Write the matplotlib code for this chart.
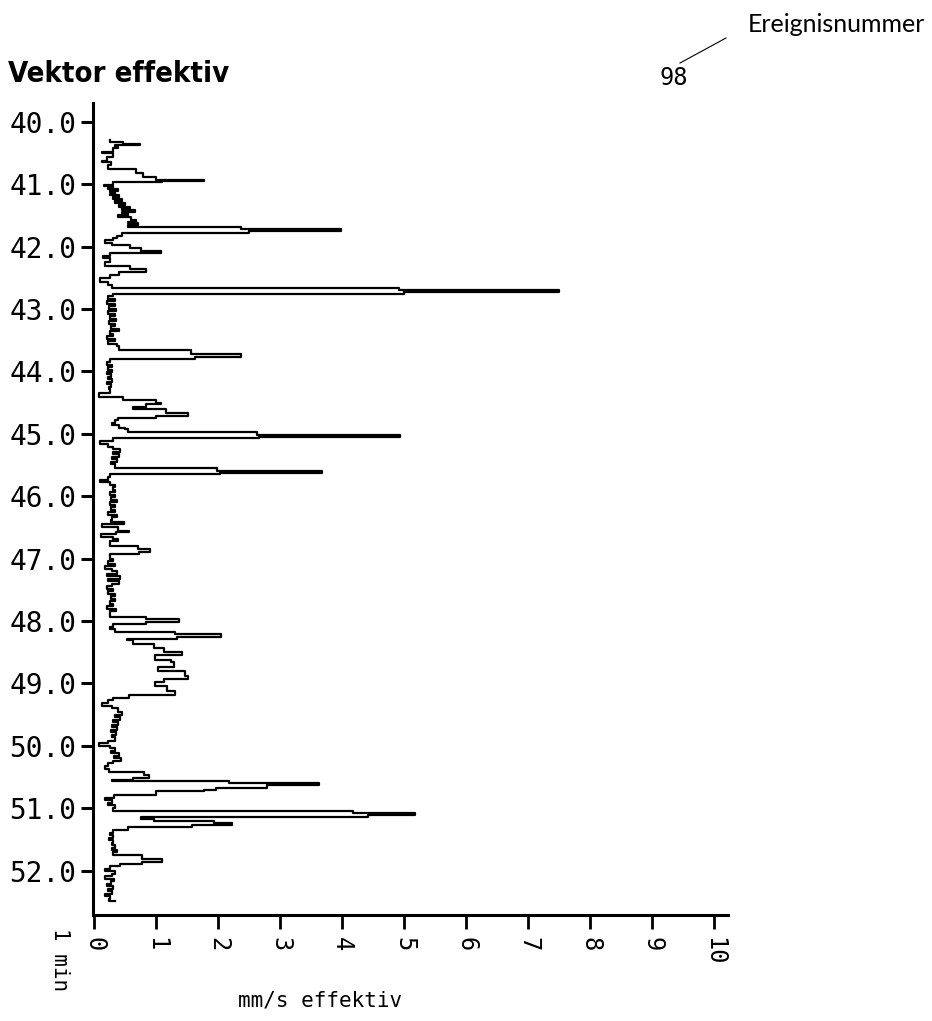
import matplotlib
matplotlib.use("Agg")
import matplotlib.pyplot as plt
from matplotlib.lines import Line2D

# recording time in minutes (downwards) and effective vector velocity in mm/s
TIME_MIN = [
    40.30, 40.32, 40.35, 40.37, 40.40, 40.42, 40.48, 40.50, 40.56, 40.63,
    40.65, 40.70, 40.75, 40.82, 40.88, 40.93, 40.95, 40.97, 41.01, 41.03,
    41.06, 41.08, 41.11, 41.13, 41.16, 41.18, 41.21, 41.24, 41.27, 41.30,
    41.33, 41.36, 41.39, 41.41, 41.44, 41.47, 41.50, 41.52, 41.57, 41.60,
    41.62, 41.65, 41.69, 41.72, 41.755, 41.78, 41.83, 41.86, 41.90, 41.94,
    41.98, 42.03, 42.07, 42.10, 42.15, 42.19, 42.24, 42.31, 42.36, 42.40,
    42.45, 42.51, 42.57, 42.61, 42.66, 42.70, 42.735, 42.76, 42.80, 42.84,
    42.88, 42.92, 42.96, 43.00, 43.04, 43.08, 43.12, 43.16, 43.20, 43.24,
    43.28, 43.32, 43.36, 43.40, 43.44, 43.48, 43.52, 43.56, 43.60, 43.66,
    43.72, 43.775, 43.80, 43.85, 43.89, 43.93, 43.97, 44.01, 44.05, 44.09,
    44.13, 44.17, 44.21, 44.25, 44.29, 44.35, 44.41, 44.46, 44.50, 44.53,
    44.57, 44.61, 44.66, 44.71, 44.74, 44.78, 44.82, 44.86, 44.90, 44.93,
    44.97, 45.02, 45.055, 45.07, 45.12, 45.16, 45.21, 45.25, 45.29, 45.33,
    45.37, 45.41, 45.45, 45.49, 45.55, 45.59, 45.625, 45.64, 45.69, 45.74,
    45.78, 45.82, 45.86, 45.90, 45.94, 45.98, 46.02, 46.06, 46.10, 46.14,
    46.18, 46.22, 46.26, 46.30, 46.34, 46.38, 46.41, 46.45, 46.49, 46.55,
    46.58, 46.61, 46.65, 46.68, 46.72, 46.80, 46.85, 46.89, 46.92, 47.00,
    47.04, 47.08, 47.12, 47.16, 47.20, 47.24, 47.28, 47.32, 47.36, 47.40,
    47.44, 47.48, 47.52, 47.56, 47.60, 47.64, 47.68, 47.72, 47.76, 47.80,
    47.84, 47.93, 47.97, 48.01, 48.05, 48.09, 48.12, 48.17, 48.21, 48.25,
    48.28, 48.31, 48.37, 48.43, 48.49, 48.55, 48.62, 48.66, 48.74, 48.80,
    48.88, 48.93, 48.97, 49.04, 49.12, 49.19, 49.23, 49.27, 49.31, 49.36,
    49.40, 49.45, 49.50, 49.54, 49.58, 49.62, 49.66, 49.70, 49.74, 49.78,
    49.82, 49.86, 49.92, 49.96, 50.00, 50.04, 50.08, 50.12, 50.16, 50.20,
    50.24, 50.28, 50.33, 50.37, 50.42, 50.47, 50.52, 50.545, 50.565, 50.60,
    50.63, 50.67, 50.71, 50.73, 50.79, 50.83, 50.87, 50.91, 50.95, 50.99,
    51.045, 51.08, 51.115, 51.135, 51.165, 51.20, 51.235, 51.265, 51.30, 51.345,
    51.39, 51.43, 51.47, 51.51, 51.55, 51.59, 51.63, 51.67, 51.70, 51.75,
    51.81, 51.86, 51.89, 51.93, 51.97, 52.01, 52.05, 52.09, 52.13, 52.17,
    52.21, 52.25, 52.29, 52.33, 52.37, 52.41, 52.45, 52.48,
]
VEL_MM_S = [
    0.25, 0.46, 0.73, 0.34, 0.38, 0.30, 0.12, 0.30, 0.20, 0.12,
    0.27, 0.22, 0.68, 0.78, 1.00, 1.77, 1.09, 0.30, 0.15, 0.30,
    0.22, 0.38, 0.25, 0.33, 0.25, 0.40, 0.30, 0.45, 0.33, 0.50,
    0.40, 0.58, 0.45, 0.65, 0.45, 0.55, 0.38, 0.60, 0.68, 0.55,
    0.70, 0.55, 2.37, 3.98, 2.50, 0.44, 0.36, 0.30, 0.18, 0.28,
    0.58, 0.75, 1.07, 0.25, 0.14, 0.26, 0.18, 0.58, 0.83, 0.40,
    0.25, 0.10, 0.22, 0.28, 4.92, 7.50, 5.00, 0.30, 0.22, 0.33,
    0.20, 0.34, 0.24, 0.35, 0.22, 0.33, 0.25, 0.35, 0.24, 0.33,
    0.27, 0.40, 0.25, 0.30, 0.20, 0.33, 0.22, 0.37, 0.40, 1.56,
    2.36, 1.62, 0.26, 0.20, 0.28, 0.22, 0.29, 0.20, 0.27, 0.22,
    0.29, 0.20, 0.27, 0.24, 0.25, 0.08, 0.47, 1.00, 1.07, 0.84,
    0.62, 1.15, 1.52, 1.00, 0.39, 0.33, 0.28, 0.40, 0.50, 0.55,
    2.62, 4.93, 2.65, 0.30, 0.10, 0.22, 0.30, 0.42, 0.30, 0.40,
    0.28, 0.36, 0.27, 0.34, 1.98, 3.68, 2.03, 0.26, 0.22, 0.10,
    0.26, 0.34, 0.30, 0.34, 0.26, 0.34, 0.27, 0.37, 0.25, 0.34,
    0.27, 0.34, 0.22, 0.36, 0.28, 0.27, 0.48, 0.12, 0.38, 0.56,
    0.35, 0.11, 0.30, 0.39, 0.26, 0.70, 0.90, 0.72, 0.26, 0.30,
    0.22, 0.34, 0.17, 0.28, 0.36, 0.21, 0.42, 0.22, 0.40, 0.28,
    0.20, 0.30, 0.22, 0.34, 0.27, 0.33, 0.25, 0.30, 0.20, 0.35,
    0.25, 0.84, 1.37, 0.84, 0.30, 0.25, 0.34, 1.31, 2.04, 1.33,
    0.53, 0.62, 0.96, 1.12, 1.41, 0.98, 1.23, 1.28, 1.03, 1.47,
    1.52, 1.12, 0.98, 1.17, 1.31, 0.56, 0.30, 0.22, 0.12, 0.28,
    0.38, 0.44, 0.34, 0.42, 0.30, 0.38, 0.28, 0.36, 0.27, 0.35,
    0.28, 0.33, 0.22, 0.08, 0.25, 0.33, 0.27, 0.40, 0.32, 0.43,
    0.30, 0.22, 0.17, 0.24, 0.80, 0.88, 0.62, 0.28, 2.17, 3.63,
    2.79, 1.96, 1.77, 1.00, 0.32, 0.18, 0.28, 0.22, 0.33, 0.30,
    4.17, 5.17, 4.42, 0.75, 0.96, 1.93, 2.22, 1.57, 0.55, 0.30,
    0.26, 0.30, 0.24, 0.31, 0.28, 0.34, 0.29, 0.36, 0.30, 0.77,
    1.09, 0.77, 0.42, 0.26, 0.17, 0.33, 0.28, 0.18, 0.32, 0.27,
    0.20, 0.30, 0.22, 0.28, 0.18, 0.25, 0.24, 0.34,
]

Y_TICKS = [40, 41, 42, 43, 44, 45, 46, 47, 48, 49, 50, 51, 52]
X_TICKS = [0, 1, 2, 3, 4, 5, 6, 7, 8, 9, 10]
EVENT_NO = "98"

W, H = 932, 1021


def main():
    plt.rcParams['font.family'] = ['DejaVu Sans Mono', 'DejaVu Sans']

    fig = plt.figure(figsize=(W / 100, H / 100), dpi=100)
    ax = fig.add_axes([93 / W, 1 - 915 / H, (728 - 93) / W, (915 - 103) / H])

    ax.plot(VEL_MM_S, TIME_MIN, color='black', lw=1.6, drawstyle='steps-pre')

    ax.set_xlim(-0.02, 10.22)
    ax.set_ylim(52.71, 39.70)

    ax.spines[['top', 'right']].set_visible(False)
    for side in ('left', 'bottom'):
        ax.spines[side].set_linewidth(2.2)

    ax.set_yticks(Y_TICKS)
    ax.set_yticklabels(['%.1f' % t for t in Y_TICKS])
    ax.set_xticks(X_TICKS)
    ax.set_xticklabels([str(v) for v in X_TICKS])
    ax.tick_params(axis='y', length=9, width=2.2, pad=3, labelsize=20)
    ax.tick_params(axis='x', length=10, width=2.0, pad=6, labelsize=17,
                   labelrotation=-90)

    fig.text(8 / W, 1 - 74 / H, 'Vektor effektiv', fontsize=21,
             weight='bold', family='DejaVu Sans', stretch='condensed',
             ha='left', va='center')
    fig.text(674 / W, 1 - 78 / H, EVENT_NO, fontsize=17,
             ha='center', va='center')
    # pointer from the event number up to its caption
    fig.add_artist(Line2D([680 / W, 726 / W], [1 - 63 / H, 1 - 38 / H],
                          transform=fig.transFigure, color='black', lw=0.8))
    fig.text(748 / W, 1 - 25 / H, 'Ereignisnummer', fontsize=18,
             family='Lato', ha='left', va='center')

    fig.text(60 / W, 1 - 928 / H, '1 min', fontsize=15, rotation=-90,
             ha='center', va='top')
    fig.text(320 / W, 1 - 1000 / H, 'mm/s effektiv', fontsize=15,
             ha='center', va='center')

    fig.savefig('out.png', dpi=100)


if __name__ == "__main__":
    main()
